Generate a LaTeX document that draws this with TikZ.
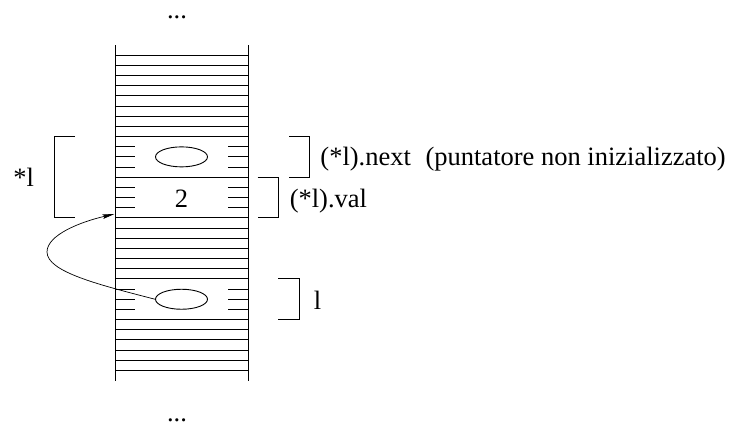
\documentclass[tikz,border=0pt]{standalone}
\usepackage{fontspec}
\setmainfont{Liberation Serif}
\usetikzlibrary{shapes.geometric,arrows.meta}
\begin{document}
\begin{tikzpicture}[x=1pt,y=-1pt,line width=0.9pt,
  lbl/.style={inner sep=0pt,anchor=base west,font=\fontsize{26.5}{30}\selectfont},
  ptr/.style={draw,ellipse,minimum width=52pt,minimum height=20pt,inner sep=0pt},
  cellbox/.style={inner sep=0pt,minimum width=133pt,minimum height=40.7pt},
  brk/.style={line width=0.9pt},
  link/.style={-{Stealth[length=12pt,width=4.5pt,inset=2pt]},line width=0.7pt}]
\useasboundingbox (0,0) rectangle (742,423);
\def\rowh{10.17}
% memory column
\draw (115,45) -- (115,{45+33*\rowh});
\draw (248,45) -- (248,{45+33*\rowh});
\foreach \i in {1,2,3,4,5,6,7,8,9,13,17,18,19,20,21,22,23,27,28,29,30,31,32}
  \draw (115,{45+\i*\rowh}) -- (248,{45+\i*\rowh});
\foreach \i in {10,11,12,14,15,16,24,25,26} {
  \draw (115,{45+\i*\rowh}) -- (135,{45+\i*\rowh});
  \draw (228,{45+\i*\rowh}) -- (248,{45+\i*\rowh});
}
% cells
\node[cellbox] (nextcell) at (181.5,{45+11*\rowh}) {};
\node[ptr] (nextptr) at (nextcell.center) {};
\node[cellbox] (valcell) at (181.5,{45+15*\rowh}) {};
\node[lbl,anchor=base] (two) at (181.5,207.3) {2};
\node[cellbox] (lcell) at (181.5,{45+25*\rowh}) {};
\node[ptr] (lptr) at (lcell.center) {};
% brackets
\draw[brk] (75,{45+9*\rowh}) -| (54,{45+17*\rowh}) -- (75,{45+17*\rowh});
\draw[brk] (289,{45+9*\rowh}) -| (309,{45+13*\rowh}) -- (289,{45+13*\rowh});
\draw[brk] (257.5,{45+13*\rowh}) -| (278.3,{45+17*\rowh}) -- (257.5,{45+17*\rowh});
\draw[brk] (278.3,{45+23*\rowh}) -| (299.3,{45+27*\rowh}) -- (278.3,{45+27*\rowh});
% labels
\node[lbl] (starl) at (13,186.7) {*l};
\node[lbl] (nextlbl) at (320,165.7) {(*l).next\hspace{0.55em}(puntatore non inizializzato)};
\node[lbl] (vallbl) at (289.3,207.3) {(*l).val};
\node[lbl] (llbl) at (313.5,309.3) {l};
\node[lbl,anchor=base] (dotstop) at (177,19) {...};
\node[lbl,anchor=base] (dotsbot) at (177,421.5) {...};
% pointer link
\coordinate (tip) at (114.5,214);
\draw[link] (lptr.west) .. controls (100,285) and (47,272) .. (47,252)
  .. controls (47,235) and (80,222) .. (tip);
\end{tikzpicture}
\end{document}
